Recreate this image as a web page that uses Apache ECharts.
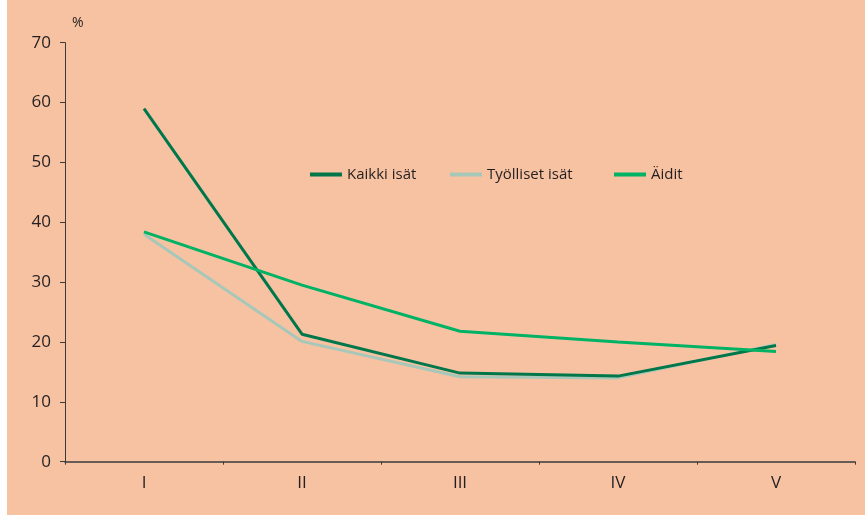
<!DOCTYPE html>
<html>
<head>
<meta charset="utf-8">
<script src="https://cdn.jsdelivr.net/npm/echarts@6/dist/echarts.min.js"></script>
<style>
html,body{margin:0;padding:0;background:#fff;}
#c{width:865px;height:515px;}
</style>
</head>
<body>
<div id="c"></div>
<script>
var categories = ['I', 'II', 'III', 'IV', 'V'];
var kaikkiIsat = [59.0, 21.3, 14.8, 14.3, 19.4];
var tyollisetIsat = [38.0, 20.1, 14.2, 14.0, 19.6];
var aidit = [38.4, 29.5, 21.8, 20.0, 18.4];
var yTicks = [0, 10, 20, 30, 40, 50, 60, 70];

var textColor = '#231f20';
var font = 'Open Sans';
var chart = echarts.init(document.getElementById('c'), null, {renderer: 'canvas'});

function legendItem(name, left) {
  return {
    data: [name], left: left, top: 162, icon: 'rect',
    itemWidth: 32, itemHeight: 4, itemGap: 11,
    textStyle: {color: textColor, fontSize: 15, fontFamily: font},
    selectedMode: false
  };
}

chart.setOption({
  backgroundColor: '#f7c2a2',
  animation: false,
  graphic: [{type: 'rect', left: 0, top: 0, shape: {width: 7, height: 515}, style: {fill: '#ffffff'}, z: -10}],
  legend: [
    legendItem('Kaikki isät', 305),
    legendItem('Työlliset isät', 445),
    legendItem('Äidit', 609)
  ],
  grid: {left: 65, right: 10, top: 42.7, bottom: 53.3, containLabel: false},
  xAxis: {
    type: 'category', data: categories, boundaryGap: true,
    axisLine: {lineStyle: {color: '#3a3a3a', width: 1.5}},
    axisTick: {show: true, length: 3, lineStyle: {color: '#3a3a3a'}},
    axisLabel: {color: textColor, fontSize: 17, fontFamily: font, margin: 13}
  },
  yAxis: {
    type: 'value', min: yTicks[0], max: yTicks[yTicks.length - 1], interval: 10,
    name: '%', nameLocation: 'end', nameGap: 13,
    nameTextStyle: {color: textColor, fontSize: 14, fontFamily: font, align: 'left', padding: [0, 0, 0, 7]},
    axisLine: {show: true, lineStyle: {color: '#3a3a3a', width: 1}},
    axisTick: {show: true, length: 5, lineStyle: {color: '#3a3a3a'}},
    splitLine: {show: false},
    axisLabel: {color: textColor, fontSize: 17, fontFamily: font, margin: 14}
  },
  series: [
    {name: 'Kaikki isät', type: 'line', data: kaikkiIsat, symbol: 'none', z: 3,
     lineStyle: {color: '#00774a', width: 3}, itemStyle: {color: '#00774a'}},
    {name: 'Työlliset isät', type: 'line', data: tyollisetIsat, symbol: 'none', z: 2,
     lineStyle: {color: '#a7c8b9', width: 3}, itemStyle: {color: '#a7c8b9'}},
    {name: 'Äidit', type: 'line', data: aidit, symbol: 'none', z: 4,
     lineStyle: {color: '#00b264', width: 3}, itemStyle: {color: '#00b264'}}
  ]
});
</script>
</body>
</html>
